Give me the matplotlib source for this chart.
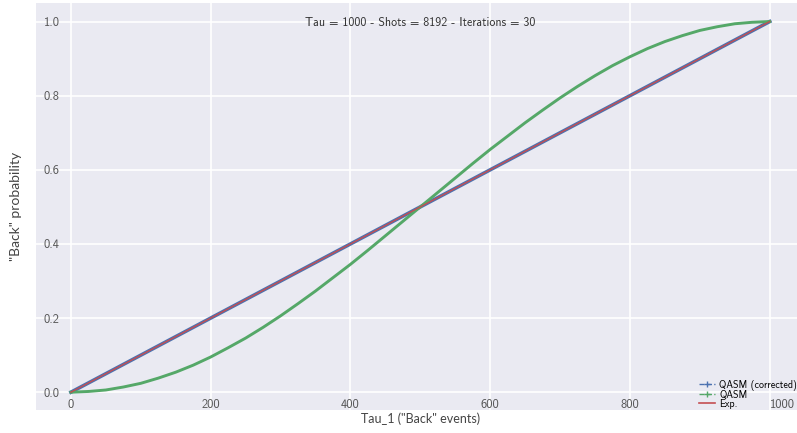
import matplotlib
matplotlib.use("Agg")
import matplotlib.pyplot as plt
from matplotlib.lines import Line2D

# data
tau1 = [0, 25, 50, 75, 100, 125, 150, 175, 200, 225, 250, 275, 300, 325, 350,
        375, 400, 425, 450, 475, 500, 525, 550, 575, 600, 625, 650, 675, 700,
        725, 750, 775, 800, 825, 850, 875, 900, 925, 950, 975, 1000]
qasm_corrected = [0.0, 0.025, 0.05, 0.075, 0.10, 0.125, 0.15, 0.175, 0.20, 0.225,
                  0.25, 0.275, 0.30, 0.325, 0.35, 0.375, 0.40, 0.425, 0.45, 0.475,
                  0.50, 0.525, 0.55, 0.575, 0.60, 0.625, 0.65, 0.675, 0.70, 0.725,
                  0.75, 0.775, 0.80, 0.825, 0.85, 0.875, 0.90, 0.925, 0.95, 0.975, 1.0]
qasm = [0.0, 0.002, 0.006, 0.014, 0.024, 0.038, 0.054, 0.073, 0.095, 0.12,
        0.146, 0.175, 0.206, 0.239, 0.273, 0.309, 0.345, 0.383, 0.422, 0.461,
        0.50, 0.539, 0.578, 0.617, 0.655, 0.691, 0.727, 0.761, 0.794, 0.825,
        0.854, 0.881, 0.905, 0.927, 0.946, 0.962, 0.976, 0.986, 0.994, 0.998, 1.0]
expected = list(qasm_corrected)
title = "Tau = 1000 - Shots = 8192 - Iterations = 30"

blue = "#4C72B0"
green = "#55A868"
red = "#C44E52"

plt.rcParams['font.family'] = ['cmss10', 'DejaVu Sans']
plt.rcParams['axes.unicode_minus'] = False

fig = plt.figure(figsize=(7.97, 4.33), dpi=100)
ax = fig.add_axes([36/797, 1 - 410/433, 761/797, 407/433])
ax.set_facecolor("#EAEAF2")
for s in ax.spines.values():
    s.set_visible(False)
ax.grid(True, color="white", lw=1.2)
ax.set_axisbelow(True)

ax.plot(tau1, qasm_corrected, color=blue, lw=2.6)
ax.plot(tau1, qasm, color=green, lw=2.1)
ax.plot(tau1, expected, color=red, lw=1.0)

ax.set_xlim(-50, 1039)
ax.set_ylim(-0.048, 1.05)
ax.set_xticks([0, 200, 400, 600, 800, 1000])
ax.set_yticks([0.0, 0.2, 0.4, 0.6, 0.8, 1.0])
ax.set_yticklabels(["0.0", "0.2", "0.4", "0.6", "0.8", "1.0"])
ax.tick_params(axis='both', length=0, labelsize=9, colors="#555555")
ax.tick_params(axis='y', pad=-17)
ax.tick_params(axis='x', pad=-8)
for lab in ax.get_yticklabels():
    lab.set_va('center_baseline')
ax.get_xticklabels()[-1].set_ha('left')

ax.text(0.505, 0.951, title, transform=ax.transAxes, ha='center', va='center',
        fontsize=8.6, color="#333333")
# cmss10 has no straight quotes / underscore, so the axis labels use Lato
ax.set_xlabel('Tau_1 ("Back" events)', fontsize=9, color="#444444", family='Lato')
ax.xaxis.set_label_coords(0.505, -0.005)
ax.set_ylabel('"Back" probability', fontsize=10, color="#444444", family='Lato')
ax.yaxis.set_label_coords(-0.019, 0.5)

handles = [
    Line2D([], [], color=blue, marker='+', ls='--', lw=1, ms=5),
    Line2D([], [], color=green, marker='+', ls='--', lw=1, ms=5),
    Line2D([], [], color=red, lw=1.2),
]
ax.legend(handles, ["QASM (corrected)", "QASM", "Exp."], loc='lower right',
          bbox_to_anchor=(1.008, -0.012), frameon=False, fontsize=7.2,
          labelspacing=-0.1, handlelength=1.6, handletextpad=0.4,
          borderaxespad=0.2)

fig.savefig("out.png", dpi=100)
